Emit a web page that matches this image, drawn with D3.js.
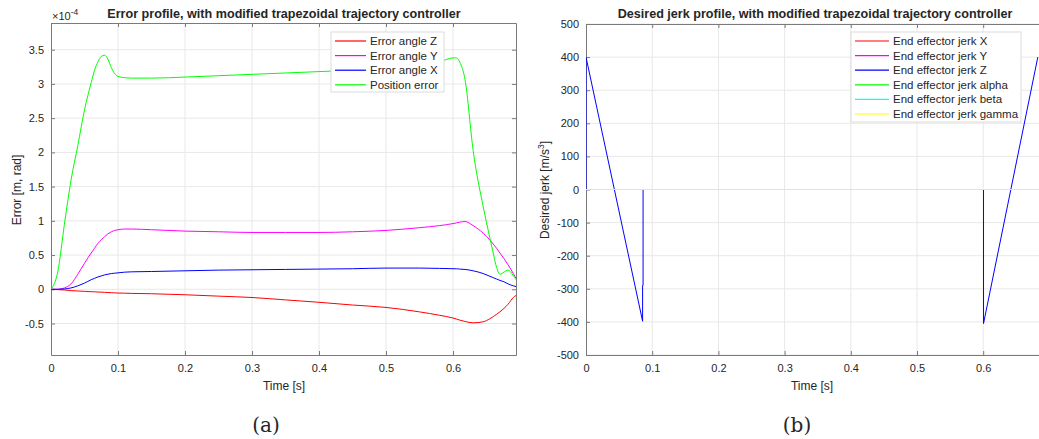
<!DOCTYPE html>
<html>
<head>
<meta charset="utf-8">
<script src="https://cdn.jsdelivr.net/npm/d3@7"></script>
<style>
  body { margin: 0; background: #fff; }
  svg text { font-family: "Liberation Sans", Arial, Helvetica, sans-serif; fill: #262626; }
</style>
</head>
<body>
<div id="chart"></div>
<script>

// ---- data ----

// left panel, values in units of 1e-4
var errTime = [0, 0.01, 0.02, 0.03, 0.04, 0.05, 0.06, 0.065, 0.07, 0.075, 0.08, 0.085, 0.09, 0.095, 0.1, 0.11, 0.12, 0.15, 0.2, 0.25, 0.3, 0.35, 0.4, 0.45, 0.5, 0.55, 0.58, 0.6, 0.605, 0.61, 0.618, 0.63, 0.645, 0.655, 0.66, 0.665, 0.67, 0.676, 0.682, 0.69, 0.694];
var errZ = [0, -0.005, -0.01, -0.02, -0.025, -0.03, -0.035, -0.037, -0.04, -0.042, -0.045, -0.047, -0.05, -0.052, -0.055, -0.057, -0.06, -0.065, -0.08, -0.1, -0.12, -0.155, -0.19, -0.23, -0.265, -0.33, -0.38, -0.42, -0.435, -0.45, -0.47, -0.49, -0.475, -0.43, -0.4, -0.365, -0.33, -0.28, -0.22, -0.12, -0.09];
var errY = [0, 0, 0.02, 0.08, 0.22, 0.38, 0.53, 0.6, 0.67, 0.72, 0.77, 0.81, 0.84, 0.86, 0.87, 0.88, 0.88, 0.87, 0.85, 0.84, 0.83, 0.83, 0.83, 0.84, 0.86, 0.9, 0.93, 0.96, 0.97, 0.98, 0.99, 0.93, 0.82, 0.72, 0.66, 0.6, 0.53, 0.45, 0.36, 0.23, 0.16];
var errX = [0, 0, 0.005, 0.02, 0.05, 0.09, 0.14, 0.16, 0.18, 0.195, 0.21, 0.22, 0.23, 0.235, 0.24, 0.25, 0.255, 0.26, 0.27, 0.28, 0.285, 0.29, 0.295, 0.3, 0.31, 0.31, 0.305, 0.3, 0.3, 0.295, 0.29, 0.27, 0.23, 0.19, 0.17, 0.15, 0.13, 0.11, 0.08, 0.05, 0.04];
var posErr = [0, 0.25, 0.95, 1.6, 2.1, 2.62, 3.02, 3.2, 3.32, 3.4, 3.42, 3.36, 3.24, 3.15, 3.11, 3.09, 3.085, 3.085, 3.1, 3.12, 3.14, 3.16, 3.18, 3.2, 3.22, 3.25, 3.32, 3.38, 3.38, 3.32, 3.06, 2.03, 1.21, 0.75, 0.53, 0.32, 0.22, 0.25, 0.28, 0.2, 0.14];
var errNames = ["Error angle Z", "Error angle Y", "Error angle X", "Position error"];
var errColors = ["#ff0000", "#ff00ff", "#0000ff", "#00ff00"];
var errTicksX = [0, 0.1, 0.2, 0.3, 0.4, 0.5, 0.6];
var errTicksY = [-0.5, 0, 0.5, 1, 1.5, 2, 2.5, 3, 3.5];

// right panel
var jerkTime = [0, 0, 0.0855, 0.0855, 0.0862, 0.0862, 0.6005, 0.6005, 0.6825];
var jerkZ = [0, 400, -398, -290, -290, 0, 0, -405, 400];
var flatTime = [0, 0.694];
var jerkX = [0, 0];
var jerkY = [0, 0];
var jerkAlpha = [0, 0];
var jerkBeta = [0, 0];
var jerkGamma = [0, 0];
var jerkNames = ["End effector jerk X", "End effector jerk Y", "End effector jerk Z", "End effector jerk alpha", "End effector jerk beta", "End effector jerk gamma"];
var jerkColors = ["#ff0000", "#ff00ff", "#0000ff", "#00ff00", "#00ffff", "#ffff00"];
var jerkTicksX = [0, 0.1, 0.2, 0.3, 0.4, 0.5, 0.6];
var jerkTicksY = [-500, -400, -300, -200, -100, 0, 100, 200, 300, 400, 500];

var svg = d3.select("#chart").append("svg")
  .attr("width", 1039)
  .attr("height", 439);

svg.append("rect").attr("width", 1039).attr("height", 439).attr("fill", "#fff");

function zip(t, v) {
  return t.map(function(d, i) { return [d, v[i]]; });
}

// draws box, grid and ticks for one panel
function drawAxes(x, y, ticksX, ticksY, clipId) {
  var x0 = x.range()[0], x1 = x.range()[1];
  var y0 = y.range()[0], y1 = y.range()[1];
  var g = svg.append("g");

  g.selectAll(".gx").data(ticksX.filter(function(d) { return d > 0; }))
    .enter().append("line")
    .attr("x1", function(d) { return x(d); }).attr("x2", function(d) { return x(d); })
    .attr("y1", y0).attr("y2", y1)
    .attr("stroke", "#e8e8e8");
  g.selectAll(".gy").data(ticksY)
    .enter().append("line")
    .attr("y1", function(d) { return y(d); }).attr("y2", function(d) { return y(d); })
    .attr("x1", x0).attr("x2", x1)
    .attr("stroke", "#e8e8e8");

  var axB = d3.axisBottom(x).tickValues(ticksX).tickSizeInner(-4).tickSizeOuter(0).tickPadding(9)
    .tickFormat(function(d) { return d === 0 ? "0" : d3.format(".1f")(d); });
  var axL = d3.axisLeft(y).tickValues(ticksY).tickSizeInner(-4).tickSizeOuter(0).tickPadding(7)
    .tickFormat(function(d) { return d; });
  var axT = d3.axisTop(x).tickValues(ticksX).tickSizeInner(-4).tickSizeOuter(0).tickFormat("");
  var axR = d3.axisRight(y).tickValues(ticksY).tickSizeInner(-4).tickSizeOuter(0).tickFormat("");

  [[axB, "translate(0," + y0 + ")"], [axL, "translate(" + x0 + ",0)"],
   [axT, "translate(0," + y1 + ")"], [axR, "translate(" + x1 + ",0)"]].forEach(function(a) {
    var ag = g.append("g").attr("transform", a[1]).call(a[0]);
    ag.selectAll("path, line").attr("stroke", "#7a7a7a");
    ag.selectAll("text").style("font-size", "11px").attr("fill", "#262626");
  });

  svg.append("clipPath").attr("id", clipId).append("rect")
    .attr("x", x0).attr("y", y1).attr("width", x1 - x0).attr("height", y0 - y1);
}

function drawLegend(x, y, w, h, names, colors, lineLen) {
  var lg = svg.append("g").attr("transform", "translate(" + x + "," + y + ")");
  lg.append("rect").attr("width", w).attr("height", h)
    .attr("fill", "#fff").attr("stroke", "#dcdcdc");
  names.forEach(function(n, i) {
    var yy = 9 + i * 14.6;
    lg.append("line").attr("x1", 4).attr("x2", 4 + lineLen).attr("y1", yy).attr("y2", yy)
      .attr("stroke", colors[i]).attr("stroke-width", 1.2);
    lg.append("text").attr("x", lineLen + 8).attr("y", yy + 4)
      .style("font-size", "11.5px").text(n);
  });
}

// ---- left panel ----
var xL = d3.scaleLinear().domain([0, 0.694]).range([51, 516]);
var yL = d3.scaleLinear().domain([-0.96, 3.89]).range([355, 23]);
drawAxes(xL, yL, errTicksX, errTicksY, "clipL");

var lineL = d3.line()
  .x(function(d) { return xL(d[0]); })
  .y(function(d) { return yL(d[1]); })
  .curve(d3.curveMonotoneX);

[errZ, errY, errX, posErr].forEach(function(s, i) {
  svg.append("path")
    .attr("clip-path", "url(#clipL)")
    .attr("d", lineL(zip(errTime, s)))
    .attr("fill", "none")
    .attr("stroke", errColors[i])
    .attr("stroke-width", 1);
});

drawLegend(331, 32, 113, 60, errNames, errColors, 31);

svg.append("text").attr("x", 284).attr("y", 18).attr("text-anchor", "middle")
  .style("font-size", "12.6px").style("font-weight", "bold")
  .text("Error profile, with modified trapezoidal trajectory controller");

var mult = svg.append("text").attr("x", 52).attr("y", 20).style("font-size", "11px");
mult.append("tspan").text("\u00d710");
mult.append("tspan").attr("dy", -5).style("font-size", "8.5px").text("-4");

svg.append("text").attr("x", 284).attr("y", 390).attr("text-anchor", "middle")
  .style("font-size", "12px").text("Time [s]");
svg.append("text").attr("transform", "translate(21,190) rotate(-90)").attr("text-anchor", "middle")
  .style("font-size", "12px").text("Error [m, rad]");

// ---- right panel ----
var xR = d3.scaleLinear().domain([0, 0.694]).range([586, 586 + 0.694 * 662]);
var yR = d3.scaleLinear().domain([-500, 500]).range([355, 24]);
drawAxes(xR, yR, jerkTicksX, jerkTicksY, "clipR");

var lineR = d3.line()
  .x(function(d) { return xR(d[0]); })
  .y(function(d) { return yR(d[1]); });

var jerkSeries = [[flatTime, jerkX], [flatTime, jerkY], [jerkTime, jerkZ],
                  [flatTime, jerkAlpha], [flatTime, jerkBeta], [flatTime, jerkGamma]];
jerkSeries.forEach(function(s, i) {
  svg.append("path")
    .attr("clip-path", "url(#clipR)")
    .attr("d", lineR(zip(s[0], s[1])))
    .attr("fill", "none")
    .attr("stroke", jerkColors[i])
    .attr("stroke-width", 1);
});

drawLegend(851, 32, 170, 90, jerkNames, jerkColors, 34);

svg.append("text").attr("x", 815).attr("y", 18).attr("text-anchor", "middle")
  .style("font-size", "12.6px").style("font-weight", "bold")
  .text("Desired jerk profile, with modified trapezoidal trajectory controller");

svg.append("text").attr("x", 812).attr("y", 390).attr("text-anchor", "middle")
  .style("font-size", "12px").text("Time [s]");
var yl = svg.append("text").attr("transform", "translate(549,190) rotate(-90)").attr("text-anchor", "middle")
  .style("font-size", "12px");
yl.append("tspan").text("Desired jerk [m/s");
yl.append("tspan").attr("dy", -5).style("font-size", "8.5px").text("3");
yl.append("tspan").attr("dy", 5).text("]");

// sub captions
svg.selectAll(".cap").data(["(a)", "(b)"]).enter().append("text")
  .attr("x", function(d, i) { return i === 0 ? 266 : 797; })
  .attr("y", 432)
  .attr("text-anchor", "middle")
  .style("font-family", "'DejaVu Serif', serif")
  .style("font-size", "20px")
  .attr("fill", "#000")
  .text(function(d) { return d; });

</script>
</body>
</html>
